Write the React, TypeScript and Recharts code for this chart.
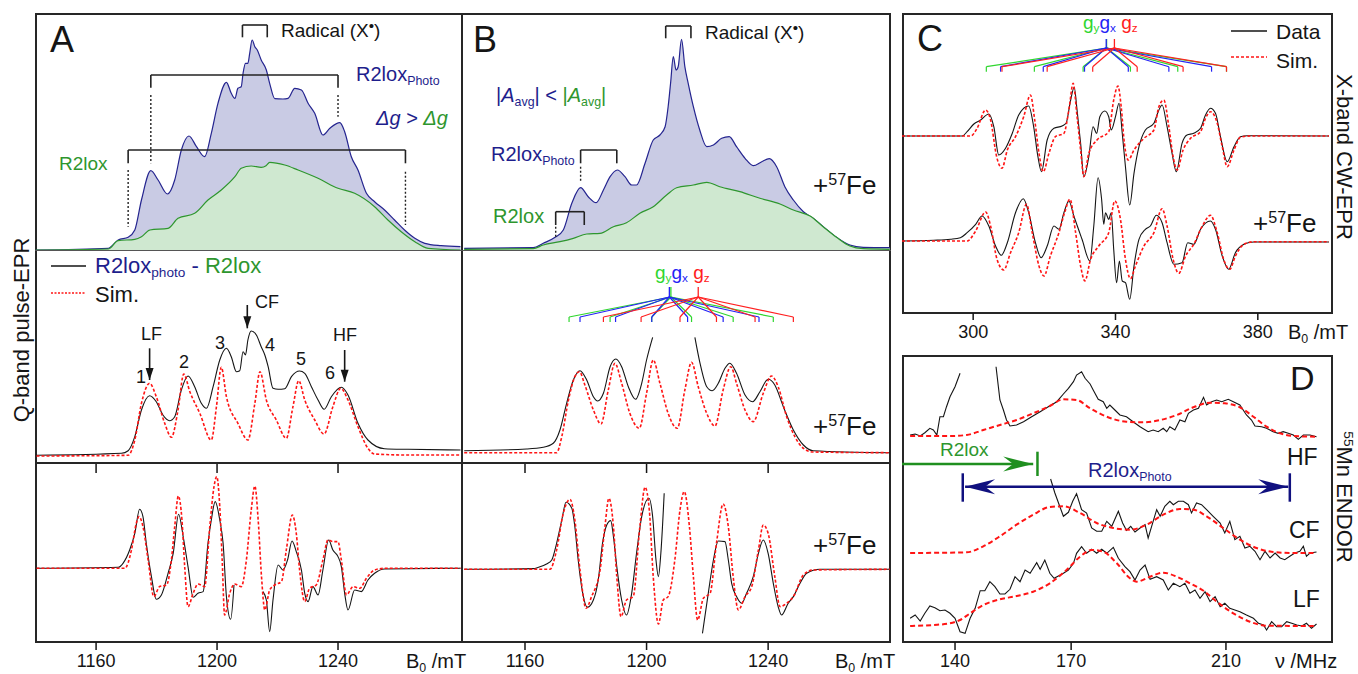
import React from "react";
import { ComposedChart, Line, Area, XAxis, YAxis, ReferenceLine } from "recharts";

const FONT = "'Liberation Sans', Arial, Helvetica, sans-serif";
const INK = "#151515";
const NAVY = "#1e1e8c";
const GREEN = "#2e962e";
const RED = "#ff1414";
const LAV = "#c9cbe4";
const MINT = "#cfe8d0";
const G_Y = "#2fd62f";
const G_X = "#2323f5";
const G_Z = "#ff2020";

type Pt = [number, number | null];

// axis ticks
const fieldTicks = [1160, 1200, 1240];
const xbandTicks = [300, 340, 380];
const endorTicks = [140, 170, 210];

// ---- A: Q-band, natural Fe ----
const aTopPhoto: Pt[] = [[1140,0],[1164,1.7],[1167.3,10],[1170.6,12.7],[1172.8,20],[1175,50],[1178.1,79.3],[1180.5,70],[1183.6,56],[1186,70],[1188.2,100],[1190.7,114],[1193.2,103.3],[1195.9,93.3],[1198.1,116.7],[1200.3,146.7],[1203.1,167.7],[1204.7,156.7],[1205.9,151.7],[1206.9,161.7],[1208,163.3],[1208.6,176.7],[1209.4,186.7],[1210.2,186.7],[1210.8,196.7],[1211.6,210],[1212.5,203.3],[1213.3,200],[1214.6,190],[1216.3,180],[1217.4,166.7],[1219.1,151.3],[1221.8,151],[1223.5,151.7],[1225.7,161.7],[1227.9,160],[1230.1,146.7],[1232.3,136.7],[1235,115],[1237.3,121.7],[1240.6,127.3],[1242.2,118.3],[1244.4,93.3],[1246.6,80],[1249.4,56.7],[1252.1,48.3],[1255.4,40],[1258.7,30],[1262,20],[1265.4,11.7],[1268.7,6.7],[1274.1,4.3],[1280.5,3.3]];
const aTopR2lox: Pt[] = [[1140,0],[1164,1],[1167.3,9.3],[1172.8,10.7],[1175,13.3],[1177.8,20],[1183.8,21.7],[1187.1,31.7],[1192.6,36.7],[1197,50],[1201.4,60],[1205.9,73.3],[1208,81.7],[1211.3,84],[1214.6,82.7],[1216.2,84.3],[1217.4,87.7],[1222.4,85],[1226.8,80],[1233.4,71.7],[1240,61.7],[1245.5,56.7],[1252.1,43.3],[1256.5,30],[1260.9,18.3],[1265.4,8.3],[1269.8,1.7],[1280.5,0]];
const aMidData: Pt[] = [[1140.3,0.7],[1168.4,2.7],[1170.6,5.3],[1172.8,19.3],[1175,46],[1177.7,60.3],[1179.9,54.3],[1182.1,41],[1184.3,35.3],[1186,39.3],[1188.2,66],[1190.4,80],[1192.6,69.3],[1194.8,52.7],[1196.5,47.7],[1198.7,69.3],[1200.9,96],[1203.1,107.7],[1204.7,99.3],[1206.4,84.3],[1207.5,85.3],[1208.6,104.3],[1209.4,101],[1210.2,116],[1211.3,125],[1213,121],[1214.6,109.3],[1215.8,101],[1216.9,89.3],[1218.5,67.7],[1220.2,66.7],[1222.4,67.3],[1224.6,79.3],[1227.3,85],[1229,82.7],[1231.2,69.3],[1233.4,56],[1235.4,46.7],[1237.8,59.3],[1241.1,68.7],[1243.3,61],[1246.6,32.7],[1249.9,16],[1255.4,7.3],[1263.1,6.7],[1280.5,6]];
const aMidSim: Pt[] = [[1140.3,0],[1170.6,0.7],[1172.8,16],[1175,52.7],[1177.7,72.7],[1179.9,59.3],[1182.7,32.7],[1184.9,18.7],[1187.1,46],[1189,82],[1191,64.3],[1194.3,42.7],[1198.1,16],[1199.8,49.3],[1201.4,88.7],[1203.1,59.3],[1206.9,32.7],[1210.2,16],[1212.5,52.7],[1214.2,84.3],[1216.3,56],[1219.6,36],[1222.9,17.7],[1225.1,49.3],[1227,75.3],[1229,56],[1232.3,36],[1235.4,22],[1238.3,49.3],[1240.9,67.7],[1243.3,56],[1246.6,29.3],[1249.9,7.7],[1252.1,2],[1263.1,1],[1280.5,1]];
const aBotData: Pt[] = [[1140.3,0],[1167.3,1],[1168.9,5],[1171.1,18.3],[1172.8,35],[1174.4,59],[1175.5,51.7],[1176.6,25],[1178.3,-8.3],[1179.9,-31],[1181.6,-26.7],[1183.8,-5],[1185.5,15],[1187.3,54],[1188.8,31.7],[1190.4,1.7],[1192.1,-29],[1193.7,-25],[1195.4,-23.3],[1197,25],[1198.1,48.3],[1199.4,66.7],[1200.9,48.3],[1202,25],[1203.1,-28.3],[1204.5,-51],[1205.6,-16.7],[1210,null],[1215.2,-23.3],[1216.3,-31.7],[1217.4,-63.3],[1218.5,-31.7],[1220.2,3.3],[1221.8,-1.7],[1223.3,8.3],[1224.8,27.3],[1226.2,16.7],[1227.9,-1.7],[1229,-25],[1230.1,-33.3],[1231.7,-18.3],[1233.4,-26.7],[1235,-1.7],[1236.9,28.3],[1238.3,18.3],[1240,11.7],[1241.1,1.7],[1242.2,-25],[1243.3,-41.7],[1245.5,-21.7],[1247.7,-23.3],[1249.9,-11.7],[1252.1,-5],[1255.4,-0.7],[1280.5,0]];
const aBotSim: Pt[] = [[1140.3,0],[1169.5,0],[1171.7,18.3],[1173.3,45],[1174.2,51.7],[1175.5,41.7],[1177.2,8.3],[1179.1,-28.3],[1181,-18.3],[1183.3,-16.7],[1184.9,8.3],[1186,41.7],[1187.2,72.3],[1188.4,48.3],[1189.3,1.7],[1190.4,-38.3],[1192.1,-25],[1193.7,-15.7],[1195.9,-18.3],[1197.6,41.7],[1199,81.7],[1199.9,91.7],[1200.9,61.7],[1201.7,8.3],[1202.5,-46.7],[1204.2,-25],[1205.8,-15.7],[1208,-18.3],[1209.7,8.3],[1211.3,58.3],[1212.5,82.3],[1213.6,48.3],[1214.7,-8.3],[1215.8,-41.7],[1217.4,-21.7],[1219.1,-16.7],[1221.3,-13.3],[1222.9,18.3],[1224.9,53.3],[1226.2,35],[1227.3,-1.7],[1229,-33.3],[1230.6,-20],[1232.8,-16.7],[1235,8.3],[1236.7,28.3],[1238.3,26.7],[1240,26.7],[1241.1,8.3],[1242.8,-26.7],[1245,-18.3],[1247.2,-20],[1249.4,-10],[1252.1,-1.7],[1255.4,0],[1280.5,0]];

// ---- B: Q-band, +57Fe ----
const bTopPhoto: Pt[] = [[1140,1.7],[1162.7,2.3],[1166,6.7],[1169.9,12.7],[1172.6,20],[1175.4,46.7],[1178.3,62.3],[1180.8,53.3],[1183.4,47.3],[1185.8,60],[1188,73.3],[1190.4,80],[1192.9,73.3],[1195.1,65],[1196.7,65],[1199.5,86.7],[1202.2,110],[1204.4,115],[1206.1,123.3],[1207.1,143.3],[1207.9,166.7],[1208.8,193.3],[1209.7,180],[1210.4,183.3],[1211.5,210.7],[1212.6,183.3],[1213.7,166.7],[1215.4,143.3],[1217.5,120],[1219.8,103.3],[1222,105],[1224.7,111.7],[1227.2,113.3],[1229.6,103.3],[1232.4,91.7],[1235.1,84.3],[1237.9,88.3],[1240.4,91.3],[1242.8,83.3],[1245.5,63.3],[1248.3,50],[1251.6,38.3],[1254.8,31.7],[1258.1,23.3],[1262.5,12.7],[1266.9,5],[1271.3,2.7],[1280,2.3]];
const bTopR2lox: Pt[] = [[1140,0.7],[1162.7,1.3],[1166,5],[1171.5,8.3],[1175.9,11.7],[1180.3,16],[1184.7,16.7],[1189.1,23.3],[1193.4,27.3],[1197.8,36.7],[1202.2,43.3],[1206.6,55],[1209.9,62.3],[1215.4,65],[1219.8,67.7],[1224.1,63.3],[1230.7,58.3],[1237.3,51.7],[1243.9,46],[1248.3,40],[1253.8,34],[1258.1,23.3],[1262.5,12.7],[1266.9,4],[1271.3,1.3],[1280,0.7]];
const bMidData: Pt[] = [[1140,5.3],[1160.5,7],[1166,8.7],[1169.3,12.7],[1171.5,26],[1173.7,52.7],[1175.9,76],[1178.1,85.3],[1180.3,76],[1182.5,59.3],[1183.9,55],[1185.8,62.7],[1188,89.3],[1189.9,97],[1191.8,89.3],[1194,69.3],[1196.4,56.7],[1198.4,72.7],[1200,96],[1202,118.7],[1209,null],[1215.9,118.7],[1217.6,92.7],[1219.8,69.3],[1221.6,65.3],[1223.6,72.7],[1225.8,87.7],[1227.4,92.7],[1229.6,82.7],[1232.4,61],[1234.9,54.3],[1237.3,64.3],[1240,76.7],[1242.2,71],[1245,49.3],[1248.3,26],[1251.6,11],[1254.8,5.3],[1280,3.3]];
const bMidSim: Pt[] = [[1140,3.3],[1170.4,3.3],[1172.1,19.3],[1174.3,56],[1176.4,79.3],[1177.9,84.3],[1179.7,71],[1182.5,46],[1185,32],[1187.4,66],[1189.6,92.7],[1191.8,72.7],[1194.5,42.7],[1197.6,27.7],[1200,62.7],[1202.2,96],[1204.4,72.7],[1207.1,42.7],[1210.1,27.7],[1212.6,66],[1214.8,93.7],[1217,69.3],[1219.8,42.7],[1222.5,30],[1225.2,66],[1227.7,89.3],[1229.6,72.7],[1232.4,46],[1235.1,34.3],[1238.4,62.7],[1241.1,80],[1243.3,69.3],[1246.1,39.3],[1248.8,19.3],[1251.6,7.7],[1254.8,4],[1280,3.3]];
const bBotData: Pt[] = [[1140,0],[1162.7,0.7],[1164.4,2],[1167.1,5.3],[1168.8,9.3],[1170.4,26],[1172.1,49.3],[1173.5,67],[1175.4,61],[1176.4,42.7],[1177.5,9.3],[1179,-24],[1180.5,-38],[1182.5,-30.7],[1184.1,-10.7],[1185.5,26],[1186.9,44.3],[1188.2,48.7],[1189.1,32.7],[1190.2,2.7],[1191.8,-30.7],[1193.4,-45.7],[1195.1,-24],[1196.7,16],[1198.4,52.7],[1200.8,71],[1202,52.7],[1203.1,9.3],[1203.9,-7.3],[1204.7,16],[1205.8,76],[1212,null],[1218.4,-64],[1220.3,-24],[1222,9.3],[1223.6,28.3],[1225.8,27.7],[1226.9,9.3],[1228,-14],[1229.6,-27.3],[1231.3,-34],[1232.9,-24],[1235.1,-7.3],[1236.8,16],[1238.4,29.3],[1240,16],[1241.7,-14],[1243.3,-37.3],[1244.4,-45.7],[1246.6,-34],[1248.3,-27.3],[1250.5,-14],[1252.7,-4],[1257,0],[1280,0]];
const bBotSim: Pt[] = [[1140,0],[1168.2,0],[1170.4,19.3],[1172.6,56],[1174.8,70],[1176.4,49.3],[1178.1,-0.7],[1180.1,-39],[1181.9,-27.3],[1184.7,-0.7],[1186.3,42.7],[1187.6,71],[1189.1,42.7],[1190.2,-7.3],[1191.6,-47.3],[1193.4,-30.7],[1195.6,-27.3],[1197.8,42.7],[1199.5,82],[1200.9,59.3],[1202.2,-7.3],[1203.9,-54.7],[1205.5,-30.7],[1207.1,-27.3],[1209.3,9.3],[1211,59.3],[1212.4,77.7],[1214.1,42.7],[1215.4,-7.3],[1216.8,-50.7],[1218.7,-29],[1220.9,-24],[1223,26],[1225.2,65.3],[1226.9,42.7],[1228.5,-7.3],[1230.2,-40.7],[1232.4,-27.3],[1234.6,-17.3],[1236.8,19.3],[1238.4,44.3],[1240,36],[1242.2,-7.3],[1243.9,-37.3],[1246.1,-34],[1248.3,-27.3],[1251.6,-5.7],[1254.8,-0.7],[1280,0]];

// ---- C: X-band CW ----
const cTopData: Pt[] = [[280,0],[296.9,0],[298.3,4.3],[300.2,12],[302.1,16],[304.4,22],[305.8,9.3],[307.2,-19],[309.1,-12.3],[311,2.7],[312.8,21],[315.6,30],[317,9.3],[318.2,-20.7],[319.2,-35.7],[320.8,-4],[322.7,7.7],[325,10],[326.1,12.7],[327.4,36],[328.4,48.7],[329.2,26],[330.2,-7.3],[331.1,-40.7],[332.5,-20.7],[333.7,9.3],[334.7,2.7],[335.6,19.3],[337,25],[338.1,19.3],[338.8,6],[340,19.3],[341,32.7],[341.9,2.7],[342.8,-30.7],[344,-69],[345.2,-37.3],[346.6,-10.7],[348.4,6],[350.8,12.7],[352,24.3],[353.1,31],[354.5,9.3],[355.9,-17.3],[357.1,-35.7],[358.7,-7.3],[360.1,1],[362,2.7],[363.9,7.7],[365.3,21],[366.7,27.7],[368.1,22.7],[369.5,-0.7],[371.4,-25.7],[373.3,-10.7],[375.1,-0.7],[377,0.3],[400,0]];
const cTopSim: Pt[] = [[280,0],[299.3,0],[301.1,7.7],[303.5,26],[304.9,16],[306.6,-20.7],[308.1,-32.3],[309.6,-14],[311.9,-0.7],[314.2,19.3],[316.1,41],[317.3,16],[318.5,-17.3],[319.7,-35.7],[321.3,-17.3],[323.1,-0.7],[325.5,2.7],[326.9,26],[328.1,52.7],[329.2,19.3],[330.2,-14],[331.1,-40.7],[332.5,-17.3],[334.8,-4],[338.1,4.3],[339.5,36],[340.7,50],[341.6,29.3],[342.5,-7.3],[343.6,-24],[345.2,-14],[348,-2.3],[350.8,6],[352.2,29.3],[353.6,36],[355,9.3],[356.2,-20.7],[357.3,-34],[359,-14],[361.1,-2.3],[363.9,4.3],[365.3,17.7],[366.7,24.3],[368.6,12.7],[370,-10.7],[371.4,-30.7],[373.3,-14],[375.1,-1.3],[377.9,0],[400,0]];
const cBotData: Pt[] = [[280,0],[288.9,0.7],[293.6,1.7],[296.4,3.3],[298.3,8.3],[300.7,16.7],[302.5,25],[304.4,15],[306.3,-5],[307.9,-14.3],[309.6,-1.7],[311.9,28.3],[314.1,42.3],[315.6,28.3],[317.5,-1.7],[319.1,-16.7],[320.8,-5],[322.7,15],[324.1,11.7],[325.5,28.3],[326.9,40],[328.3,25],[330.6,1.7],[332.8,-20],[333.9,15],[335.1,63.3],[336.1,41.7],[336.7,16.7],[337.2,28.3],[338.1,21.7],[338.8,28.3],[339.5,-8.3],[340.3,-41.7],[341.1,-20],[341.9,-40],[342.8,-41.7],[344,-58.3],[345.2,-25],[346.6,1.7],[348.4,11.7],[349.8,15],[351.5,25.7],[353.1,18.3],[354.5,-1.7],[356.4,-23.3],[358.7,-21.7],[360.3,-1.7],[362,-3.3],[363.9,11.7],[366.7,20],[368.1,11.7],[370,-15],[371.8,-28.3],[373.7,-11.7],[376.1,-3.3],[378.9,-1],[400,-1]];
const cBotSim: Pt[] = [[280,0],[298.3,0],[300.7,10],[303.5,29],[304.9,15],[306.7,-18.3],[308.6,-29],[310.5,-11.7],[312.8,8.3],[315,36.7],[316.6,8.3],[318.5,-25],[319.9,-35],[321.7,-15],[324.1,8.3],[325.7,28.3],[327.2,41.7],[328.8,8.3],[330.2,-25],[331.4,-40],[333,-18.3],[335.3,-5],[338.1,8.3],[339.8,40],[341.4,21.7],[342.8,-18.3],[344.2,-37.7],[345.6,-25],[348,-5],[350.8,8.3],[353.1,32.3],[354.5,15],[356.2,-18.3],[357.8,-32.3],[359.7,-15],[362,-3.3],[364.4,15],[366.7,25.7],[368.6,8.3],[370.4,-18.3],[372.1,-28.3],[373.7,-15],[376.1,-3.3],[378.9,-0.7],[400,-0.7]];

// ---- D: 55Mn ENDOR ----
const dHFData: Pt[] = [[128.4,1],[129.7,2],[131,0],[132.2,3.3],[133.5,7.7],[134.4,6],[135.3,1],[136.1,19.3],[137,19.3],[137.8,29.3],[138.7,39.3],[140,49.3],[141.3,62.7],[146,null],[150.6,69.3],[151.2,49.3],[151.6,36],[152.5,26],[153.3,16],[154.2,10],[155.9,11],[157.7,14.3],[159.8,19.3],[162,24.3],[164.1,29.3],[166.3,34.3],[168,42],[169.3,47.7],[170.6,54.3],[171.4,61],[172.7,64.3],[173.6,57.7],[174.9,52],[175.7,46],[177,36.7],[178.3,34.3],[179.2,27.7],[180,31],[181.3,26],[182.6,21],[184.3,19.3],[186,14.3],[187.8,9.3],[189.9,4.3],[191.2,6],[192.5,4.3],[193.8,7.7],[194.7,4.3],[195.5,9.3],[196.8,6],[198.1,16],[199.4,14.3],[200.3,22.7],[201.6,26],[202.9,27.7],[204.2,38.7],[205,31],[206.3,34.3],[207.6,36],[208.9,34.3],[210.6,36.7],[211.9,34.3],[213.6,31],[215.3,21],[216.6,16],[217.5,10],[219.2,9.3],[220.5,7.7],[222.2,4.3],[223.5,2.7],[224.8,4.3],[226.1,2.7],[227.4,1],[228.7,-3.3],[230,1],[231.7,1],[233.4,-0.7]];
const dHFSim: Pt[] = [[128.4,0],[138.7,0],[143,1],[147.3,6],[151.6,11],[155.9,16],[160.2,22.7],[164.5,30],[168,36.7],[171.4,36],[174.9,27.7],[179.2,19.3],[184.3,14.3],[188.7,13.7],[193,16],[197.3,21],[201.6,28.7],[205.9,33.3],[209.7,32.7],[213.6,28.7],[217.1,19.3],[220.5,9.3],[224,2.7],[227.4,0],[233.4,-0.7]];
const dCFData: Pt[] = [[164.7,74],[165.8,60],[167,47.3],[168,36.7],[169.3,40.7],[170.4,51.7],[171.4,59.3],[172.7,43.3],[174,40],[175.3,25],[176.6,21.7],[177.9,21.7],[179.2,31.7],[180.5,26.7],[182.2,41.7],[183.3,30],[184.3,22.7],[185.4,26.7],[186.5,21],[187.8,25],[189.1,28.3],[189.9,15],[190.8,26.7],[192.1,43.3],[193,36.7],[194.2,46.7],[195.5,51.7],[196.4,48.3],[197.7,51.7],[199,51.7],[200.3,48.3],[201.1,40],[202.4,50],[203.7,48.3],[205,43.3],[206.7,36.7],[208.5,30],[209.7,20],[211,31.7],[212.3,13.3],[213.6,16.7],[214.9,5],[216.2,6.7],[217.5,1.7],[218.8,-6.7],[220.1,1.7],[221.4,-5],[222.7,0],[224,-5],[225.2,-6.7],[226.5,-3.3],[227.8,0],[229.1,1.7],[230,6.7],[230.8,-3.3],[231.7,0],[233.4,1]];
const dCFSim: Pt[] = [[128.4,0],[143,0.7],[147.3,6.7],[151.6,16.7],[155.9,28.3],[160.2,38.3],[164.5,46],[168,46.7],[172.3,40],[176.6,30],[180.9,25],[185.2,23.3],[189.5,28.3],[193.8,38.3],[198.1,44],[201.6,43.3],[205,36.7],[209.3,25],[213.6,13.3],[217.9,5],[222.2,1],[227.4,0],[233.4,0]];
const dLFData: Pt[] = [[128.4,7.7],[129.7,11],[131,5],[132.2,12.7],[133.5,20],[134.8,18.3],[136.1,15.3],[137.4,16],[138.7,12.7],[140,7.7],[141.3,-5.7],[142.6,-7.3],[143.9,7.7],[145.2,17.7],[146.5,35.3],[147.7,35.3],[149,44.3],[150.3,39.3],[151.6,32],[152.9,32],[154.2,36.7],[155.5,49.3],[156.8,44.3],[158.1,56],[159.4,52.7],[161.1,63.3],[162,56.7],[163.2,66],[164.5,52.7],[165.6,47.7],[166.7,50],[168,52.7],[169.3,56],[170.6,62.7],[171.4,72.7],[172.7,79.3],[174,72.7],[175.3,76.7],[176.6,72.7],[177.9,76.7],[179.2,72.7],[180.9,78.7],[182.2,67.7],[183.9,59.3],[185.2,54.3],[186.5,46],[187.8,56],[189.1,61],[190.4,46.7],[192.1,49.3],[193.8,46],[195.1,36],[196.4,42.7],[198.1,39.3],[199.4,42.7],[200.7,32.7],[202,36],[203.3,27.7],[204.6,34.3],[205.9,24.3],[207.2,29.3],[208.5,19.3],[209.7,22.7],[211,17.7],[212.3,16],[213.6,14.3],[215.3,11],[217.1,7.7],[218.4,2.7],[219.7,1],[220.5,-4],[221.8,4.3],[223.1,-0.7],[224.4,-0.7],[225.7,4.3],[227,2.7],[228.3,1],[229.6,0],[230.8,2.7],[232.1,-2.3],[233.4,2]];
const dLFSim: Pt[] = [[128.4,0],[134.4,1],[138.7,2.7],[141.3,6],[143.9,12.7],[147.3,21],[151.6,26.7],[155.9,30],[160.2,34.3],[164.5,42.7],[168.8,56],[172.3,69.3],[175.3,76],[178.3,74.3],[181.8,62.7],[185.2,47.7],[186.9,44.3],[190.4,49.3],[193.8,53.3],[197.3,49.3],[200.7,42.7],[204.2,35.3],[207.6,24.3],[211.9,12.7],[216.2,4.3],[220.5,0.3],[233.4,0]];

// hyperfine stick positions (mT)
const bStickGy = [1174.5, 1188.0, 1201.7, 1214.8, 1228.5, 1241.7];
const bStickGx = [1178.1, 1189.8, 1201.7, 1213.5, 1225.2, 1237.0];
const bStickGz = [1185.8, 1198.2, 1211.0, 1223.0, 1235.7, 1248.3];
const cStickGy = [303.7, 317.2, 330.9, 344.2, 357.5, 371.2];
const cStickGx = [307.7, 319.7, 331.3, 343.6, 355.0, 367.0];
const cStickGz = [308.1, 320.8, 333.6, 346.1, 359.0, 371.2];

// stacking offsets of the traces
const C_UPPER = 105;
const D_CF = 73;
const D_HF = 190;

function rows(pts: Pt[], off: number) {
  return pts.map(function (p) {
    return { x: p[0], y: p[1] === null ? null : (p[1] as number) + off };
  });
}

function curve(key: string, pts: Pt[], color: string, w: number, dash?: string, off?: number, kind?: any) {
  return (
    <Line key={key} data={rows(pts, off || 0)} dataKey="y" type={kind || "monotone"} stroke={color}
      strokeWidth={w} strokeDasharray={dash} dot={false} activeDot={false}
      isAnimationActive={false} connectNulls={false} legendType="none" />
  );
}

function fill(key: string, pts: Pt[], line: string, color: string) {
  return (
    <Area key={key} data={rows(pts, 0)} dataKey="y" type="monotone" stroke={line} strokeWidth={1.2}
      fill={color} fillOpacity={1} baseValue={0} dot={false} activeDot={false}
      isAnimationActive={false} legendType="none" />
  );
}

function arrowShape(both: boolean, len: number, half: number, notch: number) {
  return function (p: any) {
    const x1 = p.x1, y1 = p.y1, x2 = p.x2, y2 = p.y2;
    const a = Math.atan2(y2 - y1, x2 - x1);
    function head(x: number, y: number, ang: number) {
      const c = Math.cos(ang), s = Math.sin(ang);
      const bx = x - c * len, by = y - s * len;
      const nx = x - c * (len - notch), ny = y - s * (len - notch);
      return x + "," + y + " " + (bx - s * half) + "," + (by + c * half) + " " + nx + "," + ny + " " + (bx + s * half) + "," + (by - c * half);
    }
    return (
      <g>
        <line x1={x1} y1={y1} x2={x2} y2={y2} stroke={p.stroke} strokeWidth={p.strokeWidth} />
        <polygon points={head(x2, y2, a)} fill={p.stroke} />
        {both ? <polygon points={head(x1, y1, a + Math.PI)} fill={p.stroke} /> : null}
      </g>
    );
  };
}

function seg(key: string, x1: number, y1: number, x2: number, y2: number, color: string, w: number, dash?: string, shape?: any) {
  return (
    <ReferenceLine key={key} segment={[{ x: x1, y: y1 }, { x: x2, y: y2 }]} stroke={color}
      strokeWidth={w} strokeDasharray={dash} ifOverflow="visible" shape={shape} />
  );
}

function bracket(k: string, xa: number, xb: number, top: number, leg: number, dotA: number[] | null, dotB: number[] | null) {
  const out = [
    seg(k + "t", xa, top, xb, top, "#222", 1.6),
    seg(k + "l", xa, top, xa, leg, "#222", 1.6),
    seg(k + "r", xb, top, xb, leg, "#222", 1.6),
  ];
  if (dotA) out.push(seg(k + "dl", xa, dotA[0], xa, dotA[1], "#222", 1.4, "2 2"));
  if (dotB) out.push(seg(k + "dr", xb, dotB[0], xb, dotB[1], "#222", 1.4, "2 2"));
  return out;
}

function sticks(k: string, ends: number[], apex: number, color: string, yTop: number, yApex: number, yEnd: number, yDrop: number) {
  const out = [seg(k + "v", apex, yTop, apex, yApex, color, 1.3)];
  ends.forEach(function (e, i) {
    out.push(seg(k + "a" + i, apex, yApex, e, yEnd, color, 1.2));
    out.push(seg(k + "d" + i, e, yEnd, e, yDrop, color, 1.2));
  });
  return out;
}

function Plot(props: any) {
  const axis = props.axis || "none";
  const axisH = axis === "labels" ? 34 : axis === "marks" ? 10 : 0;
  const h = props.height + axisH;
  return (
    <div style={{ position: "absolute", left: props.left, top: props.top, width: props.width, height: h }}>
      <ComposedChart width={props.width} height={h} margin={{ top: 0, right: 0, bottom: 0, left: 0 }}>
        <XAxis type="number" dataKey="x" domain={props.xDomain} allowDataOverflow hide={axis === "none"}
          ticks={props.ticks} interval={0} height={axisH} axisLine={false}
          tickLine={{ stroke: INK, strokeWidth: 1.5 }} tickSize={axis === "marks" ? 9 : props.tickSize || 8}
          tickMargin={props.tickMargin || 4}
          tick={{ fontSize: 18, fill: INK, fontFamily: FONT }}
          tickFormatter={axis === "marks" ? function () { return ""; } : undefined} />
        <YAxis type="number" domain={props.yDomain} allowDataOverflow hide />
        {props.children}
      </ComposedChart>
    </div>
  );
}

function Sub(props: any) {
  return <span style={{ fontSize: "0.62em", position: "relative", top: "0.3em" }}>{props.children}</span>;
}
function Sup(props: any) {
  return <span style={{ fontSize: "0.62em", position: "relative", top: "-0.55em" }}>{props.children}</span>;
}
function Dot() {
  return <span style={{ fontSize: "0.8em", position: "relative", top: "-0.35em" }}>•</span>;
}

function Label(props: any) {
  return (
    <div style={{
      position: "absolute", left: props.x, top: props.cy - props.size / 2, fontSize: props.size,
      lineHeight: 1, color: props.color || INK, fontFamily: FONT, whiteSpace: "nowrap", ...props.style,
    }}>{props.children}</div>
  );
}

function VLabel(props: any) {
  return (
    <div style={{
      position: "absolute", left: props.cx, top: props.cy, fontSize: props.size, lineHeight: 1,
      color: INK, fontFamily: FONT, whiteSpace: "nowrap",
      transform: "translate(-50%,-50%) rotate(" + props.rot + "deg)",
    }}>{props.children}</div>
  );
}

function Box(props: any) {
  return <div style={{ position: "absolute", left: props.x, top: props.y, width: props.w, height: props.h, border: "2px solid #262626", boxSizing: "border-box" }} />;
}
function HRule(props: any) {
  return <div style={{ position: "absolute", left: props.x, top: props.y, width: props.w, height: 0, borderTop: (props.t || 2) + "px solid " + (props.c || "#262626") }} />;
}

function Sample(props: any) {
  return (
    <svg style={{ position: "absolute", left: props.x, top: props.y - 3 }} width={props.w} height={6}>
      <line x1={0} y1={3} x2={props.w} y2={3} stroke={props.color} strokeWidth={props.sw} strokeDasharray={props.dash} />
    </svg>
  );
}

function Fe57(props: any) {
  return <Label x={props.x} cy={props.cy} size={26}>+<Sup>57</Sup>Fe</Label>;
}

const A_DOM = [1139.8, 1281];
const B_DOM = [1139.6, 1280.1];
const smallArrow = arrowShape(false, 12, 4, 0);
const bigArrow = arrowShape(false, 30, 7.5, 10);
const twoArrow = arrowShape(true, 30, 7.5, 10);

export default function App() {
  return (
    <div style={{ position: "absolute", left: 0, top: 0, width: 1358, height: 674, background: "#fff", fontFamily: FONT, overflow: "hidden" }}>
      {/* frames */}
      <Box x={35} y={13} w={856} h={630} />
      <div style={{ position: "absolute", left: 461, top: 13, width: 2, height: 630, background: "#262626" }} />
      <HRule x={35} y={250} w={856} t={1} c="#555" />
      <HRule x={35} y={462} w={856} />
      <Box x={902} y={13} w={431} h={301} />
      <Box x={902} y={355} w={431} h={288} />

      {/* A */}
      <Plot left={35} top={13} width={427} height={237} xDomain={A_DOM} yDomain={[0, 237]}>
        {fill("ap", aTopPhoto, "#24248f", LAV)}
        {fill("ar", aTopR2lox, GREEN, MINT)}
        {bracket("arad", 1208.4, 1216.6, 225, 212.7, null, null)}
        {bracket("aph", 1178.1, 1240.0, 175, 162.3, [155, 86.7], [155, 133.3])}
        {bracket("ar2", 1170.6, 1262.3, 100, 86.7, [80, 23.3], [78.3, 25])}
      </Plot>
      <Plot left={35} top={251} width={427} height={213} xDomain={A_DOM} yDomain={[-8, 205]} axis="marks" ticks={fieldTicks}>
        {curve("amd", aMidData, INK, 1.1)}
        {curve("ams", aMidSim, RED, 1.6, "3 2")}
        {seg("alf", 1177.7, 107.7, 1177.7, 76, INK, 1.6, undefined, smallArrow)}
        {seg("acf", 1210.0, 151, 1210.0, 127.7, INK, 1.6, undefined, smallArrow)}
        {seg("ahf", 1242.2, 106, 1242.2, 74.3, INK, 1.6, undefined, smallArrow)}
      </Plot>
      <Plot left={35} top={464} width={427} height={178} xDomain={A_DOM} yDomain={[-73.7, 104.3]} axis="labels" ticks={fieldTicks}>
        {curve("abd", aBotData, INK, 1.1)}
        {curve("abs", aBotSim, RED, 1.6, "3 2")}
      </Plot>

      {/* B */}
      <Plot left={463} top={13} width={427} height={237} xDomain={B_DOM} yDomain={[0, 237]}>
        {fill("bp", bTopPhoto, "#24248f", LAV)}
        {fill("br", bTopR2lox, GREEN, MINT)}
        {bracket("brad", 1206.3, 1214.6, 224, 211.7, null, null)}
        {bracket("bph", 1178.3, 1190.2, 100, 86.7, [83.3, 67.3], null)}
        {bracket("br2", 1170.1, 1179.5, 38.3, 25, [23.3, 11.7], null)}
      </Plot>
      <Plot left={463} top={251} width={427} height={213} xDomain={B_DOM} yDomain={[-8, 205]} axis="marks" ticks={fieldTicks}>
        {sticks("sgy", bStickGy, 1208.0, G_Y, 169, 159, 139, 134)}
        {sticks("sgx", bStickGx, 1207.5, G_X, 169, 159, 139, 134)}
        {sticks("sgz", bStickGz, 1217.0, G_Z, 169, 159, 139, 134)}
        {curve("bmd", bMidData, INK, 1.1)}
        {curve("bms", bMidSim, RED, 1.6, "3 2")}
      </Plot>
      <Plot left={463} top={464} width={427} height={178} xDomain={B_DOM} yDomain={[-72.7, 105.3]} axis="labels" ticks={fieldTicks}>
        {curve("bbd", bBotData, INK, 1.1)}
        {curve("bbs", bBotSim, RED, 1.6, "3 2")}
      </Plot>

      {/* C */}
      <Plot left={902} top={13} width={430} height={300} xDomain={[280, 400.85]} yDomain={[-72, 228]} axis="labels" ticks={xbandTicks} tickSize={7} tickMargin={5}>
        {sticks("cgy", cStickGy, 337.5, G_Y, 202, 193, 174.3, 169.3)}
        {sticks("cgx", cStickGx, 337.4, G_X, 202, 193, 174.3, 169.3)}
        {sticks("cgz", cStickGz, 339.7, G_Z, 202, 193, 174.3, 169.3)}
        {curve("ctd", cTopData, INK, 1.1, undefined, C_UPPER)}
        {curve("cts", cTopSim, RED, 1.6, "3 2", C_UPPER)}
        {curve("cbd", cBotData, INK, 1.1)}
        {curve("cbs", cBotSim, RED, 1.6, "3 2")}
      </Plot>

      {/* D */}
      <Plot left={902} top={355} width={430} height={287} xDomain={[126.3, 237.4]} yDomain={[-16, 271]} axis="labels" ticks={endorTicks}>
        {curve("dhd", dHFData, INK, 1.1, undefined, D_HF, "linear")}
        {curve("dhs", dHFSim, RED, 2, "5 3", D_HF)}
        {curve("dcd", dCFData, INK, 1.1, undefined, D_CF, "linear")}
        {curve("dcs", dCFSim, RED, 2, "5 3", D_CF)}
        {curve("dld", dLFData, INK, 1.1, undefined, 0, "linear")}
        {curve("dls", dLFSim, RED, 2, "5 3", 0)}
        {seg("dga", 126.3, 162, 160.2, 162, "#1f8f1f", 2.5, undefined, bigArrow)}
        {seg("dgb", 161.3, 174.3, 161.3, 150, "#1f8f1f", 2.5)}
        {seg("dna", 142.6, 139.3, 226.1, 139.3, "#10107f", 2.5, undefined, twoArrow)}
        {seg("dnb", 142.0, 152.7, 142.0, 124.3, "#10107f", 2.5)}
        {seg("dnc", 226.5, 152.7, 226.5, 124.3, "#10107f", 2.5)}
      </Plot>

      {/* texts A */}
      <Label x={50} cy={40} size={36}>A</Label>
      <Label x={281} cy={30} size={19}>Radical (X<Dot />)</Label>
      <Label x={356} cy={74} size={20} color={NAVY}>R2lox<Sub>Photo</Sub></Label>
      <Label x={376} cy={118} size={20} style={{ fontStyle: "italic" }}>
        <span style={{ color: NAVY }}>Δg &gt; </span><span style={{ color: GREEN }}>Δg</span>
      </Label>
      <Label x={59} cy={163} size={19} color={GREEN}>R2lox</Label>
      <Sample x={51} y={266} w={35} color={INK} sw={1.5} />
      <Label x={95} cy={266} size={22}>
        <span style={{ color: NAVY }}>R2lox<Sub>photo</Sub> - </span><span style={{ color: GREEN }}>R2lox</span>
      </Label>
      <Sample x={51} y={293} w={35} color={RED} sw={1.6} dash="2 1.5" />
      <Label x={95} cy={295} size={22}>Sim.</Label>
      <Label x={141} cy={334} size={18}>LF</Label>
      <Label x={255} cy={302} size={18}>CF</Label>
      <Label x={333} cy={335} size={18}>HF</Label>
      <Label x={136} cy={377} size={18}>1</Label>
      <Label x={179} cy={362} size={18}>2</Label>
      <Label x={215} cy={343} size={18}>3</Label>
      <Label x={265} cy={345} size={18}>4</Label>
      <Label x={296} cy={359} size={18}>5</Label>
      <Label x={325} cy={373} size={18}>6</Label>
      <Label x={406} cy={661} size={20}>B<Sub>0</Sub> /mT</Label>
      <VLabel cx={22} cy={330} size={22} rot={-90}>Q-band pulse-EPR</VLabel>

      {/* texts B */}
      <Label x={473} cy={40} size={36}>B</Label>
      <Label x={705} cy={32} size={19}>Radical (X<Dot />)</Label>
      <Label x={496} cy={95} size={20}>
        <span style={{ color: NAVY }}>|<i>A</i><Sub>avg</Sub>| &lt; </span>
        <span style={{ color: GREEN }}>|<i>A</i><Sub>avg</Sub>|</span>
      </Label>
      <Label x={491} cy={154} size={20} color={NAVY}>R2lox<Sub>Photo</Sub></Label>
      <Label x={493} cy={216} size={20} color={GREEN}>R2lox</Label>
      <Fe57 x={813} cy={185} />
      <Fe57 x={813} cy={426} />
      <Fe57 x={813} cy={545} />
      <Label x={655} cy={272} size={19}>
        <span style={{ color: G_Y }}>g<Sub>y</Sub></span><span style={{ color: G_X }}>g<Sub>x</Sub></span>
        <span style={{ color: G_Z }}> g<Sub>z</Sub></span>
      </Label>
      <Label x={835} cy={661} size={20}>B<Sub>0</Sub> /mT</Label>

      {/* texts C */}
      <Label x={917} cy={39} size={36}>C</Label>
      <Label x={1083} cy={22} size={19}>
        <span style={{ color: G_Y }}>g<Sub>y</Sub></span><span style={{ color: G_X }}>g<Sub>x</Sub></span>
        <span style={{ color: G_Z }}> g<Sub>z</Sub></span>
      </Label>
      <Sample x={1231} y={31} w={36} color={INK} sw={1.5} />
      <Label x={1276} cy={31} size={21}>Data</Label>
      <Sample x={1231} y={57} w={36} color={RED} sw={1.6} dash="3 2" />
      <Label x={1276} cy={60} size={21}>Sim.</Label>
      <Fe57 x={1253} cy={223} />
      <Label x={1288} cy={332} size={20}>B<Sub>0</Sub> /mT</Label>
      <VLabel cx={1344} cy={157} size={22} rot={90}>X-band CW-EPR</VLabel>

      {/* texts D */}
      <Label x={1290} cy={378} size={34}>D</Label>
      <Label x={1287} cy={457} size={23}>HF</Label>
      <Label x={1289} cy={530} size={23}>CF</Label>
      <Label x={1293} cy={599} size={23}>LF</Label>
      <Label x={940} cy={449} size={19} color={GREEN}>R2lox</Label>
      <Label x={1088} cy={470} size={20} color={NAVY}>R2lox<Sub>Photo</Sub></Label>
      <Label x={1275} cy={661} size={20}>ν /MHz</Label>
      <VLabel cx={1344} cy={497} size={22} rot={90}><Sup>55</Sup>Mn ENDOR</VLabel>
    </div>
  );
}
